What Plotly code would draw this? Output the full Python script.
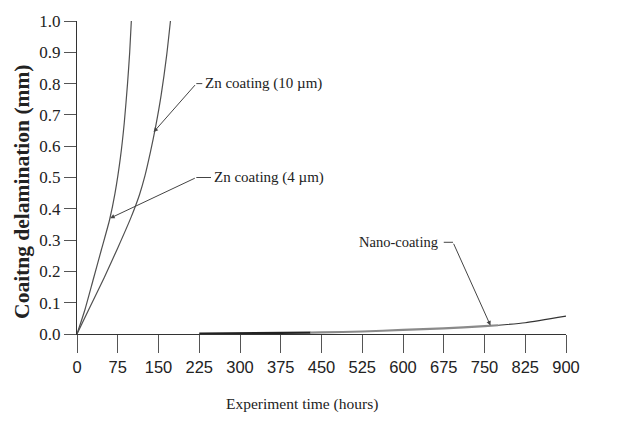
import plotly.graph_objects as go

# ---- data ----
t_zn4 = [0, 15, 30, 45, 60, 70, 80, 87, 93, 97, 100]
d_zn4 = [0, 0.08, 0.175, 0.27, 0.365, 0.45, 0.565, 0.675, 0.8, 0.9, 1.0]

t_zn10 = [0, 25, 50, 75, 100, 115, 125, 135, 145, 155, 165, 172]
d_zn10 = [0, 0.09, 0.18, 0.275, 0.375, 0.445, 0.505, 0.58, 0.665, 0.765, 0.89, 1.0]

t_nano = [225, 300, 375, 430, 450, 525, 600, 675, 750, 775, 825, 900]
d_nano = [0.001, 0.002, 0.003, 0.0045, 0.005, 0.008, 0.013, 0.018, 0.025, 0.028, 0.036, 0.057]

x_ticks = [0, 75, 150, 225, 300, 375, 450, 525, 600, 675, 750, 825, 900]
y_ticks = [0.0, 0.1, 0.2, 0.3, 0.4, 0.5, 0.6, 0.7, 0.8, 0.9, 1.0]

labels = ["Zn coating (10 µm)", "Zn coating (4 µm)", "Nano-coating"]
label_pos = [(219.6, 0.80), (219.6, 0.50), (692, 0.293)]
arrow_tip = [(141, 0.645), (61, 0.37), (761, 0.027)]

SERIF = "Liberation Serif, Times New Roman, serif"
SANS = "Liberation Sans Narrow, Arial Narrow, Liberation Sans, sans-serif"
CURVE = "#505050"

fig = go.Figure()
fig.add_trace(go.Scatter(x=t_zn4, y=d_zn4, mode="lines",
                         line=dict(color=CURVE, width=1.2, shape="spline", smoothing=0.6), showlegend=False))
fig.add_trace(go.Scatter(x=t_zn10, y=d_zn10, mode="lines",
                         line=dict(color=CURVE, width=1.2, shape="spline", smoothing=0.6), showlegend=False))

# nano curve in three visual segments (black thick, grey thick, dark thin)
i1 = t_nano.index(430)
i2 = t_nano.index(775)
fig.add_trace(go.Scatter(x=t_nano[:i1 + 1], y=d_nano[:i1 + 1], mode="lines",
                         line=dict(color="#222", width=2.2), showlegend=False))
fig.add_trace(go.Scatter(x=t_nano[i1:i2 + 1], y=d_nano[i1:i2 + 1], mode="lines",
                         line=dict(color="#8a8a8a", width=2.2, shape="spline", smoothing=0.6), showlegend=False))
fig.add_trace(go.Scatter(x=t_nano[i2:], y=d_nano[i2:], mode="lines",
                         line=dict(color="#333", width=1.2, shape="spline", smoothing=0.6), showlegend=False))

annotations = []
shapes = []
# Zn labels: dash then text, to the right of leader start
dash_len = [11, 27]
for k in range(2):
    lx, ly = label_pos[k]
    tx, ty = arrow_tip[k]
    shapes.append(dict(type="line", xref="x", yref="y", x0=lx, y0=ly, x1=lx + dash_len[k], y1=ly,
                       line=dict(color="#444", width=1)))
    annotations.append(dict(x=lx + dash_len[k] + 1, y=ly, xref="x", yref="y", text=labels[k],
                            showarrow=False, xanchor="left", yanchor="middle",
                            font=dict(family=SERIF, size=15, color="#222")))
    annotations.append(dict(x=tx, y=ty, ax=lx, ay=ly, xref="x", yref="y", axref="x", ayref="y",
                            text="", showarrow=True, arrowhead=2, arrowsize=0.9, arrowwidth=1,
                            arrowcolor="#444", standoff=0, startstandoff=0))
# Nano label: text then dash to the left of the leader start
lx, ly = label_pos[2]
tx, ty = arrow_tip[2]
shapes.append(dict(type="line", xref="x", yref="y", x0=lx - 17, y0=ly, x1=lx, y1=ly,
                   line=dict(color="#444", width=1)))
annotations.append(dict(x=lx - 24, y=ly, xref="x", yref="y", text=labels[2],
                        showarrow=False, xanchor="right", yanchor="middle",
                        font=dict(family=SERIF, size=14.5, color="#222")))
annotations.append(dict(x=tx, y=ty, ax=lx, ay=ly, xref="x", yref="y", axref="x", ayref="y",
                        text="", showarrow=True, arrowhead=2, arrowsize=0.9, arrowwidth=1,
                        arrowcolor="#444", standoff=0, startstandoff=0))
# axis titles (placed as in the reference, slightly off-centre)
annotations.append(dict(x=0.46, y=-0.225, xref="paper", yref="paper", text="Experiment time (hours)",
                        showarrow=False, xanchor="center", yanchor="middle",
                        font=dict(family=SERIF, size=15.5, color="#222")))
annotations.append(dict(x=-0.1125, y=0.454, xref="paper", yref="paper",
                        text="<b>Coaitng delamination (mm)</b>", textangle=-90,
                        showarrow=False, xanchor="center", yanchor="middle",
                        font=dict(family=SERIF, size=21.5, color="#222")))

fig.update_layout(
    width=624, height=421,
    margin=dict(l=77, r=58, t=19, b=87),
    paper_bgcolor="white", plot_bgcolor="white",
    annotations=annotations, shapes=shapes,
    xaxis=dict(range=[0, 900], tickvals=x_ticks, ticktext=[str(v) for v in x_ticks],
               showgrid=False, zeroline=False, showline=True, linecolor="#333", linewidth=1,
               ticks="outside", ticklen=18, tickcolor="#555", tickwidth=1,
               tickfont=dict(family=SANS, size=16.5, color="#222")),
    yaxis=dict(range=[0, 1.0], tickvals=y_ticks, ticktext=[f"{v:.1f}" for v in y_ticks],
               showgrid=False, zeroline=False, showline=True, linecolor="#333", linewidth=1,
               ticks="outside", ticklen=12, tickcolor="#555", tickwidth=1,
               tickfont=dict(family=SERIF, size=17, color="#222")),
)

fig.write_html("out.html")
